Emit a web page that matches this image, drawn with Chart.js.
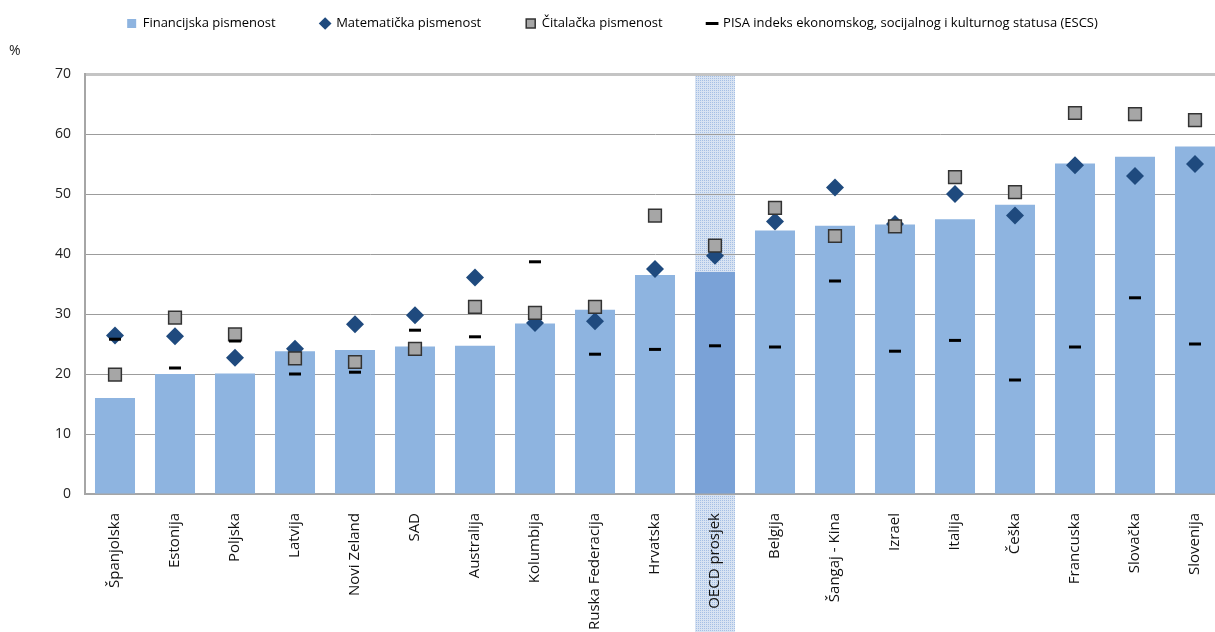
<!DOCTYPE html>
<html>
<head>
<meta charset="utf-8">
<script src="https://cdn.jsdelivr.net/npm/chart.js@4/dist/chart.umd.min.js"></script>
<style>
  html, body { margin: 0; padding: 0; background: #fff; overflow: hidden; }
  #wrap { position: relative; width: 1240px; height: 632px; }
</style>
</head>
<body>
<div id="wrap"><canvas id="myChart"></canvas></div>
<script>
const categories = ['Španjolska', 'Estonija', 'Poljska', 'Latvija', 'Novi Zeland', 'SAD', 'Australija',
  'Kolumbija', 'Ruska Federacija', 'Hrvatska', 'OECD prosjek', 'Belgija', 'Šangaj - Kina', 'Izrael',
  'Italija', 'Češka', 'Francuska', 'Slovačka', 'Slovenija'];

const financijska = [16.0, 20.0, 20.1, 23.8, 24.0, 24.6, 24.7, 28.4, 30.7, 36.5, 37.0, 43.9, 44.7, 44.9, 45.8, 48.2, 55.1, 56.2, 57.9];
const matematicka = [26.4, 26.3, 22.7, 24.2, 28.3, 29.8, 36.1, 28.5, 28.8, 37.5, 39.7, 45.4, 51.1, 45.0, 50.0, 46.4, 54.8, 53.0, 55.0];
const citalacka = [19.9, 29.4, 26.6, 22.6, 22.0, 24.2, 31.2, 30.2, 31.2, 46.4, 41.4, 47.7, 43.0, 44.6, 52.8, 50.3, 63.5, 63.3, 62.3];
const escs = [25.8, 21.0, 25.5, 20.0, 20.3, 27.3, 26.2, 38.7, 23.3, 24.1, 24.7, 24.5, 35.5, 23.8, 25.6, 19.0, 24.5, 32.7, 25.0];

const yTicks = [0, 10, 20, 30, 40, 50, 60, 70];
const oecd = 'OECD prosjek';

// dotted fill for the OECD column
function dotPattern(ctx) {
  const c = document.createElement('canvas');
  c.width = 2; c.height = 2;
  const p = c.getContext('2d');
  p.fillStyle = '#d8e3f2';
  p.fillRect(0, 0, 2, 2);
  p.fillStyle = '#a5bfe5';
  p.fillRect(0, 0, 1, 1);
  return ctx.createPattern(c, 'repeat');
}

const oecdStripe = {
  id: 'oecdStripe',
  beforeDraw(chart) {
    const bar = chart.getDatasetMeta(0).data[categories.indexOf(oecd)];
    if (!bar) return;
    const ctx = chart.ctx;
    ctx.save();
    ctx.fillStyle = dotPattern(ctx);
    ctx.fillRect(bar.x - bar.width / 2, chart.chartArea.top, bar.width, chart.height - chart.chartArea.top);
    ctx.restore();
  },
  afterDraw(chart) {
    const ctx = chart.ctx;
    ctx.save();
    ctx.font = '14px "Open Sans"';
    ctx.fillStyle = '#222';
    ctx.textBaseline = 'middle';
    ctx.fillText('%', 9, 51);
    ctx.restore();
  }
};

// room between legend and plot
const legendMargin = {
  id: 'legendMargin',
  beforeInit(chart) {
    const fit = chart.legend.fit;
    chart.legend.fit = function () {
      fit.bind(chart.legend)();
      this.height += 34;
    };
  }
};

const ctx = document.getElementById('myChart').getContext('2d');

const myChart = new Chart(ctx, {
  type: 'bar',
  data: {
    labels: categories,
    datasets: [
      {
        type: 'bar',
        label: 'Financijska pismenost',
        data: financijska,
        backgroundColor: categories.map(c => c === oecd ? '#7aa2d7' : '#8eb4e0'),
        barPercentage: 0.667,
        categoryPercentage: 1,
        pointStyle: 'rect',
        order: 4
      },
      {
        type: 'line',
        label: 'Matematička pismenost',
        data: matematicka,
        showLine: false,
        pointStyle: 'rectRot',
        pointRadius: 9,
        pointHoverRadius: 9,
        backgroundColor: '#1f4a7e',
        borderColor: '#1f4a7e',
        pointBorderWidth: 0,
        borderWidth: 0,
        order: 3
      },
      {
        type: 'line',
        label: 'Čitalačka pismenost',
        data: citalacka,
        showLine: false,
        pointStyle: 'rect',
        pointRadius: 9,
        pointHoverRadius: 9,
        backgroundColor: '#a6a6a6',
        borderColor: '#333333',
        pointBorderWidth: 1.5,
        borderWidth: 1.5,
        order: 2
      },
      {
        type: 'line',
        label: 'PISA indeks ekonomskog, socijalnog i kulturnog statusa (ESCS)',
        data: escs,
        showLine: false,
        pointStyle: 'line',
        pointRadius: 6,
        pointHoverRadius: 6,
        backgroundColor: '#000',
        borderColor: '#000',
        pointBorderWidth: 3,
        borderWidth: 3,
        order: 1
      }
    ]
  },
  options: {
    responsive: true,
    maintainAspectRatio: false,
    animation: false,
    layout: { padding: { top: -28, left: 0, right: 15, bottom: 0 } },
    plugins: {
      tooltip: { enabled: false },
      legend: {
        position: 'top',
        labels: {
          usePointStyle: true,
          boxWidth: 9,
          boxHeight: 9,
          padding: 45,
          color: '#000',
          font: { family: 'Open Sans', size: 13 },
          sort: (a, b) => a.datasetIndex - b.datasetIndex
        }
      }
    },
    scales: {
      x: {
        afterFit(scale) { scale.height = 138; },
        grid: { display: false },
        border: { display: true, color: '#a6a6a6', width: 2 },
        ticks: {
          autoSkip: false,
          maxRotation: 90,
          minRotation: 90,
          padding: 11,
          color: '#111',
          font: { family: 'Open Sans', size: 15 }
        }
      },
      y: {
        min: 0,
        max: 70,
        afterFit(scale) { scale.width = 85; },
        afterBuildTicks(scale) { scale.ticks = yTicks.map(v => ({ value: v })); },
        grid: {
          drawTicks: false,
          color: c => c.tick && c.tick.value === 70 ? '#c4c4c4' : '#9c9c9c',
          lineWidth: c => c.tick && c.tick.value === 70 ? 3 : 1
        },
        border: { display: true, color: '#a6a6a6', width: 2 },
        ticks: {
          padding: 14,
          color: '#222',
          font: { family: 'Open Sans', size: 14 }
        }
      }
    }
  },
  plugins: [oecdStripe, legendMargin]
});
</script>
</body>
</html>
